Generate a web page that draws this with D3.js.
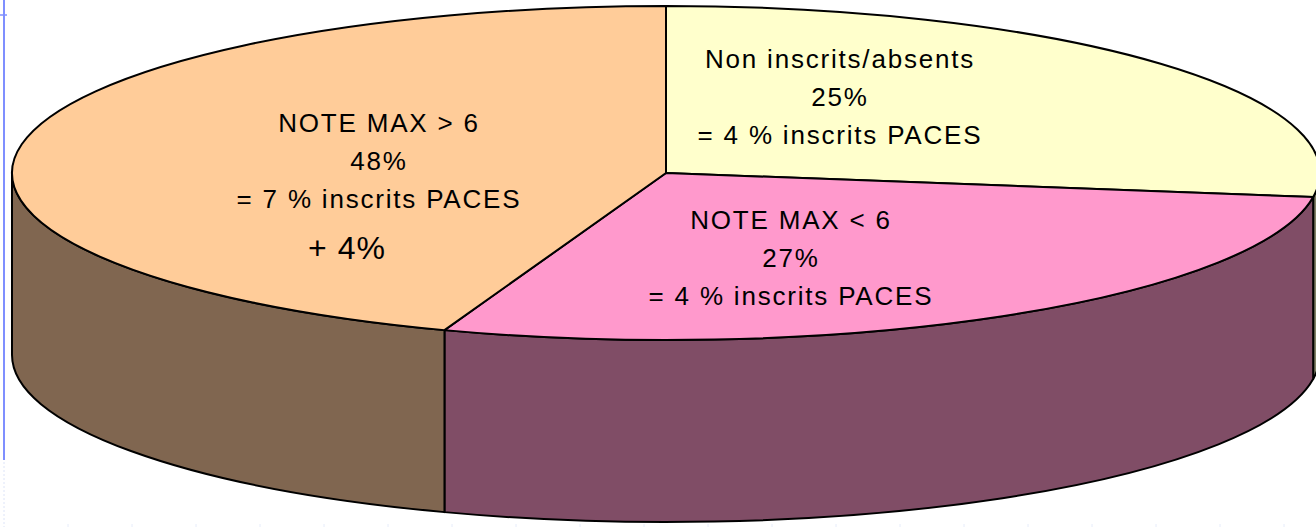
<!DOCTYPE html>
<meta charset="utf-8">
<style>
body { margin: 0; background: #fff; }
svg { display: block; }
.lbl { font-family: "Liberation Sans", Arial, sans-serif; fill: #000; }
</style>
<svg width="1316" height="527"></svg>
<script src="https://d3js.org/d3.v7.min.js"></script>
<script>

// data: slices clockwise from 12 o'clock
var categories = ["Non inscrits/absents", "NOTE MAX < 6", "NOTE MAX > 6"];
var shares = [27.3, 28.2, 44.5];            // slice sizes as drawn
var pctLabels = ["25%", "27%", "48%"];
var subLabels = ["= 4 % inscrits PACES", "= 4 % inscrits PACES", "= 7 % inscrits PACES"];
var extraLabel = "+ 4%";

var topColors  = ["#ffffcc", "#ff99cc", "#ffcc99"];
var sideColors = ["#808066", "#804d66", "#806650"];

var svg = d3.select("svg");

// ellipse geometry of the tilted pie
var cx = 666, cy = 173, rx = 654, ry = 167, depth = 182;

function pt(a, dy) {
  return [cx + rx * Math.sin(a), cy - ry * Math.cos(a) + (dy || 0)];
}

var pie = d3.pie().sort(null).value(d => d);
var arcs = pie(shares);

// side walls (only the front half, PI/2 .. 3PI/2, is visible)
var sides = svg.append("g");
arcs.forEach(function(d, i) {
  var s = Math.max(d.startAngle, Math.PI / 2),
      e = Math.min(d.endAngle, 3 * Math.PI / 2);
  if (e <= s) return;
  var p0 = pt(s), p1 = pt(e), q1 = pt(e, depth), q0 = pt(s, depth);
  var large = (e - s) > Math.PI ? 1 : 0;
  var dstr = "M" + p0 + "A" + rx + "," + ry + " 0 " + large + " 1 " + p1 +
             "L" + q1 + "A" + rx + "," + ry + " 0 " + large + " 0 " + q0 + "Z";
  sides.append("path")
    .attr("d", dstr)
    .attr("fill", sideColors[i])
    .attr("stroke", "#000")
    .attr("stroke-width", 2)
    .attr("stroke-linejoin", "round");
});

// top faces
var tops = svg.append("g");
arcs.forEach(function(d, i) {
  var p0 = pt(d.startAngle), p1 = pt(d.endAngle);
  var large = (d.endAngle - d.startAngle) > Math.PI ? 1 : 0;
  tops.append("path")
    .attr("d", "M" + cx + "," + cy + "L" + p0 + "A" + rx + "," + ry + " 0 " + large + " 1 " + p1 + "Z")
    .attr("fill", topColors[i])
    .attr("stroke", "#000")
    .attr("stroke-width", 2)
    .attr("stroke-linejoin", "round");
});

// labels (placed by hand like the original)
var labelPos = [[840, 68], [791, 229], [379, 132]];
var lineGap = 38;
var labels = svg.append("g");
arcs.forEach(function(d, i) {
  var t = labels.append("text")
    .attr("class", "lbl")
    .attr("text-anchor", "middle")
    .attr("font-size", 26)
    .attr("letter-spacing", 1.8)
    .attr("x", labelPos[i][0])
    .attr("y", labelPos[i][1]);
  [categories[i], pctLabels[i], subLabels[i]].forEach(function(s, k) {
    t.append("tspan").attr("x", labelPos[i][0]).attr("dy", k ? lineGap : 0).text(s);
  });
});
labels.append("text")
  .attr("class", "lbl")
  .attr("text-anchor", "middle")
  .attr("font-size", 32)
  .attr("letter-spacing", 1)
  .attr("x", 347)
  .attr("y", 259)
  .text(extraLabel);

// slide guide remnants on the left / bottom edge
var guide = svg.append("g");
guide.append("line").attr("x1", 4).attr("x2", 4).attr("y1", 0).attr("y2", 460)
  .attr("stroke", "#7f8fff").attr("stroke-width", 2);
guide.append("line").attr("x1", 0).attr("x2", 7).attr("y1", 15).attr("y2", 15)
  .attr("stroke", "#7f8fff").attr("stroke-width", 1.5);
guide.append("line").attr("x1", 4).attr("x2", 4).attr("y1", 462).attr("y2", 527)
  .attr("stroke", "#dde4f8").attr("stroke-width", 1).attr("stroke-dasharray", "2,2");
guide.selectAll(".bt").data(d3.range(68, 1316, 64)).enter().append("line")
  .attr("x1", d => d).attr("x2", d => d).attr("y1", 524).attr("y2", 527)
  .attr("stroke", "#e6ecfa").attr("stroke-width", 1);

</script>
